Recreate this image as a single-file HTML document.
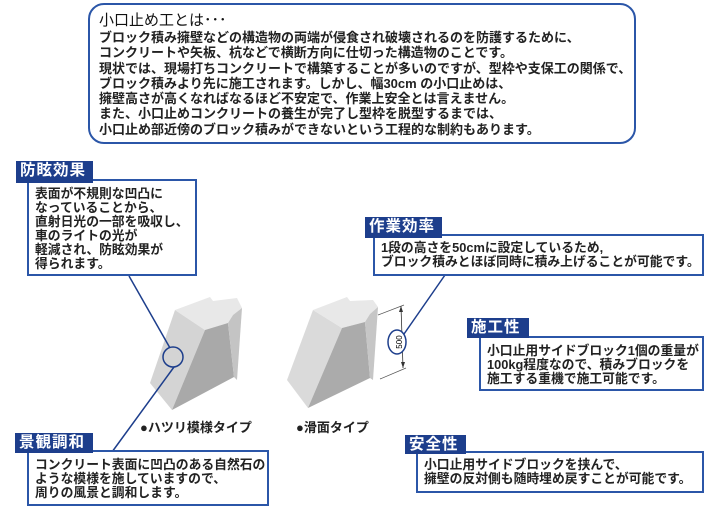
<!DOCTYPE html>
<html><head><meta charset="utf-8"><style>
body{margin:0;width:708px;height:510px;background:#fff;position:relative;overflow:hidden;font-family:"Liberation Sans","Noto Sans CJK JP",sans-serif;color:#111}
.top{position:absolute;left:88px;top:3px;width:544px;height:137px;border:2px solid #2b56a8;border-radius:16px}
.t{position:absolute;white-space:nowrap}
.lab{position:absolute;background:#1d3e8c;color:#fff;font-size:15.5px;font-weight:bold;line-height:20px;padding:0 4px;letter-spacing:1px;z-index:2}
.box{position:absolute;border:2px solid #2b56a8;background:#fff;font-size:12.8px;line-height:14px;padding-left:6px;box-sizing:border-box;white-space:nowrap;font-weight:bold;color:#222}
svg{position:absolute;left:0;top:0}
</style></head><body>
<div class="top"></div>
<div class="t" style="left:99px;top:9px;font-size:15px">小口止め工とは･･･</div>
<div class="t" style="left:99px;top:30px;font-size:13px;line-height:15.3px;font-weight:bold;color:#222">ブロック積み擁壁などの構造物の両端が侵食され破壊されるのを防護するために、<br>コンクリートや矢板、杭などで横断方向に仕切った構造物のことです。<br>現状では、現場打ちコンクリートで構築することが多いのですが、型枠や支保工の関係で、<br>ブロック積みより先に施工されます。しかし、幅30cm の小口止めは、<br>擁壁高さが高くなればなるほど不安定で、作業上安全とは言えません。<br>また、小口止めコンクリートの養生が完了し型枠を脱型するまでは、<br>小口止め部近傍のブロック積みができないという工程的な制約もあります。</div>

<svg width="708" height="510">
<polygon points="175,310 205,330 172,410 150,383" fill="#d4d4d4"/>
<polygon points="175,310 210,297 213,301 237,298 242,308 233,315 228,323 205,330" fill="#e8e8e8"/>
<polygon points="205,330 228,323 234,377 172,410" fill="#a9a9a9"/>
<polygon points="228,323 233,315 242,308 237,380 234,377" fill="#c4c4c4"/>
<polygon points="313,310 342,328 308,408 287,380" fill="#dadada"/>
<polygon points="313,310 347,297 350,301 373,300 378,307 370,314 365,322 342,328" fill="#e8e8e8"/>
<polygon points="342,328 365,322 370,378 308,408" fill="#ababab"/>
<polygon points="365,322 370,314 378,307 373,380 370,378" fill="#c6c6c6"/>
<line x1="378" y1="315" x2="404" y2="305" stroke="#555" stroke-width="0.7"/>
<line x1="380" y1="379" x2="406" y2="368" stroke="#555" stroke-width="0.7"/>
<line x1="401" y1="306" x2="403" y2="368" stroke="#333" stroke-width="0.8"/>
<polygon points="401,306 399,312 403,312" fill="#333"/>
<polygon points="403,368 401,362 405,362" fill="#333"/>
<line x1="129" y1="276" x2="170" y2="348" stroke="#1d3e8c" stroke-width="1.5"/>
<line x1="174" y1="367" x2="112" y2="452" stroke="#1d3e8c" stroke-width="1.5"/>
<circle cx="173" cy="357" r="10" fill="none" stroke="#1d3e8c" stroke-width="1.5"/>
<line x1="445" y1="275" x2="404" y2="334" stroke="#1d3e8c" stroke-width="1.5"/>
<ellipse cx="397" cy="342" rx="9" ry="12" fill="#fff" stroke="#1d3e8c" stroke-width="1.5"/>
<text x="400" y="342" font-size="8" font-family="Liberation Sans" text-anchor="middle" transform="rotate(-90 400 342)" dominant-baseline="middle">500</text>
</svg>

<div class="lab" style="left:16px;top:161px;width:69px;height:22px">防眩効果</div>
<div class="box" style="left:27px;top:179px;width:170px;height:97px;padding-top:6px">表面が不規則な凹凸に<br>なっていることから、<br>直射日光の一部を吸収し、<br>車のライトの光が<br>軽減され、防眩効果が<br>得られます。</div>

<div class="lab" style="left:365px;top:217px;width:69px;height:21px">作業効率</div>
<div class="box" style="left:373px;top:234px;width:331px;height:42px;padding-top:5px">1段の高さを50cmに設定しているため,<br>ブロック積みとほぼ同時に積み上げることが可能です。</div>

<div class="lab" style="left:467px;top:318px;width:54px;height:20px">施工性</div>
<div class="box" style="left:479px;top:336px;width:225px;height:55px;padding-top:6px">小口止用サイドブロック1個の重量が<br>100kg程度なので、積みブロックを<br>施工する重機で施工可能です。</div>

<div class="lab" style="left:405px;top:435px;width:53px;height:19px">安全性</div>
<div class="box" style="left:416px;top:451px;width:288px;height:42px;padding-top:5px">小口止用サイドブロックを挟んで、<br>擁壁の反対側も随時埋め戻すことが可能です。</div>

<div class="lab" style="left:15px;top:433px;width:70px;height:20px">景観調和</div>
<div class="box" style="left:27px;top:450px;width:242px;height:56px;padding-top:6px">コンクリート表面に凹凸のある自然石の<br>ような模様を施していますので、<br>周りの風景と調和します。</div>

<div class="t" style="left:140px;top:417px;font-size:13px;font-weight:bold;color:#222">●ハツリ模様タイプ</div>
<div class="t" style="left:296px;top:417px;font-size:13px;font-weight:bold;color:#222">●滑面タイプ</div>
</body></html>
